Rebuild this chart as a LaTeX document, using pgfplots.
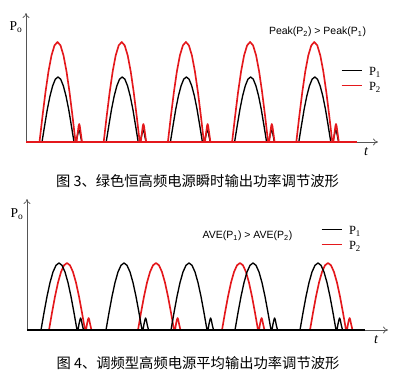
\documentclass[border=0pt]{standalone}
\usepackage{pgfplots}
\pgfplotsset{compat=1.18}
\usepackage{pgfplotstable}
\usepackage{fontspec}
\setmainfont{Liberation Serif}
\newfontfamily\cjk{Noto Sans CJK SC}
\newfontfamily\ansans{Liberation Sans}
\usetikzlibrary{arrows.meta}
\definecolor{pred}{RGB}{228,24,28}
\definecolor{axgray}{RGB}{85,85,85}

% lobe shapes, x relative to the peak (pixels), y above baseline (pixels)
\pgfplotstableread{
x y
-18 0
-15 25.9
-12 50
-9 70.7
-6 86.6
-3 96.6
0 100
3 96.6
6 86.6
9 70.7
12 50
15 25.9
18 0
19 0
20.2 9
21.1 16
21.7 18
22.3 16
23.4 8
24.5 0
}\toplobered
\pgfplotstableread{
x y
-15.5 0
-12.8 16.8
-10.2 32.5
-7.5 46
-4.8 56.3
-2.2 62.8
0.5 65
3.2 62.8
5.8 56.3
8.5 46
11.2 32.5
13.8 16.8
16.5 0
18.5 0
19.8 6
21 11
21.6 12
22.2 11
23.3 5
24.3 0
}\toplobeblack
\pgfplotstableread{
x y
-18 0
-15 17.3
-12 33.5
-9 47.4
-6 58
-3 64.7
0 67
3 64.7
6 58
9 47.4
12 33.5
15 17.3
18 0
19 0
20 6
21 10.5
21.6 12
22.2 10.5
23.3 5
24.5 0
}\botlobe

\pgfplotsset{
  wave axis/.style={
    scale only axis, anchor=south west,
    axis lines=left,
    axis line style={draw=axgray, line width=0.7pt, -{To[length=5pt,width=7pt]}},
    xtick=\empty, ytick=\empty, clip=false,
    legend style={draw=none, fill=none, inner sep=0pt, outer sep=0pt,
      font=\fontsize{12.5}{13}\selectfont,
      nodes={inner sep=0pt, text height=9pt, text depth=6pt},
      column sep=7pt, cells={anchor=west}},
    legend image code/.code={\draw[##1] (0pt,3.8pt) -- (20pt,3.8pt);},
  },
  blk/.style={black, line width=1.35pt, line join=round},
  rd/.style={pred, line width=1.65pt, line join=round},
}

\begin{document}
\begin{tikzpicture}[x=1pt,y=1pt]
\useasboundingbox (0,0) rectangle (399,-384);

% ---------- top chart ----------
\begin{axis}[wave axis, at={(26,-142)}, width=352pt, height=129pt,
  xmin=26, xmax=378, ymin=0, ymax=129,
  legend style={at={(axis cs:341,75.5)}, anchor=north west}]
\addplot[blk, forget plot] coordinates {(26,0) (357,0)};
\pgfplotsinvokeforeach{57.5,121.7,185.9,250.1,314.3}{
  \addplot[blk, forget plot] table[x expr=\thisrow{x}+#1, y=y] {\toplobeblack};
}
\addplot[rd, forget plot] coordinates {(26,0) (357,0)};
\pgfplotsinvokeforeach{57.5,121.7,185.9,250.1,314.3}{
  \addplot[rd, forget plot] table[x expr=\thisrow{x}+#1, y=y] {\toplobered};
}
\addlegendimage{black, line width=1pt}
\addlegendentry{P\textsubscript{1}}
\addlegendimage{pred, line width=1pt}
\addlegendentry{P\textsubscript{2}}
\end{axis}

% ---------- bottom chart ----------
\begin{axis}[wave axis, at={(27,-330)}, width=361pt, height=131pt,
  xmin=27, xmax=388, ymin=0, ymax=131,
  legend style={at={(axis cs:321,104.5)}, anchor=north west}]
\addplot[rd, forget plot] coordinates {(27,0) (365,0)};
\pgfplotsinvokeforeach{67,156,240,328}{
  \addplot[rd, forget plot] table[x expr=\thisrow{x}+#1, y=y] {\botlobe};
}
\addplot[blk, forget plot] coordinates {(27,0) (365,0)};
\pgfplotsinvokeforeach{59,124,189,253,318}{
  \addplot[blk, forget plot] table[x expr=\thisrow{x}+#1, y=y] {\botlobe};
}
\addlegendimage{black, line width=1pt}
\addlegendentry{P\textsubscript{1}}
\addlegendimage{pred, line width=1pt}
\addlegendentry{P\textsubscript{2}}
\end{axis}

% ---------- texts ----------
\node[font=\ansans\fontsize{10.5}{12}\selectfont] at (317.5,-32) {Peak(P\textsubscript{2}) > Peak(P\textsubscript{1})};
\node[font=\ansans\fontsize{10.5}{12}\selectfont] at (247.5,-236) {AVE(P\textsubscript{1}) > AVE(P\textsubscript{2})};
\node[font=\fontsize{13.5}{14}\selectfont] at (16,-27) {P\textsubscript{o}};
\node[font=\fontsize{13.5}{14}\selectfont] at (17,-214) {P\textsubscript{o}};
\node[font=\itshape\fontsize{14}{14}\selectfont] at (366,-152) {t};
\node[font=\itshape\fontsize{14}{14}\selectfont] at (376,-340) {t};
\node[font=\cjk\fontsize{14.3}{16}\selectfont] at (197.5,-181) {图 3、绿色恒高频电源瞬时输出功率调节波形};
\node[font=\cjk\fontsize{14.3}{16}\selectfont] at (198,-363) {图 4、调频型高频电源平均输出功率调节波形};
\end{tikzpicture}
\end{document}
